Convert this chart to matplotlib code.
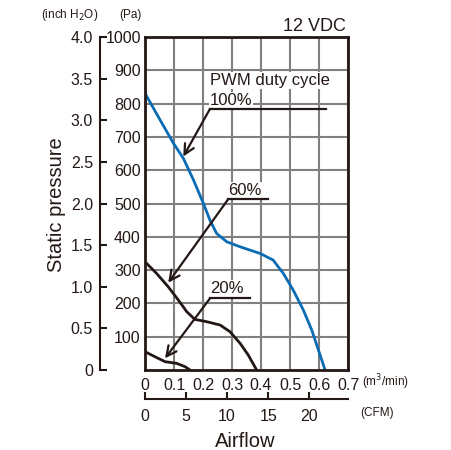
import numpy as np
import matplotlib.pyplot as plt

plt.rcParams['font.family'] = ['Liberation Sans', 'DejaVu Sans']

# fan curves, airflow in m3/min, static pressure in Pa
flow_100 = [0.0, 0.052, 0.098, 0.132, 0.167, 0.201, 0.224, 0.247, 0.282, 0.328, 0.362,
            0.397, 0.442, 0.477, 0.511, 0.546, 0.575, 0.598, 0.621]
pres_100 = [831, 751, 681, 636, 571, 501, 450, 410, 385, 370, 360,
            350, 330, 290, 240, 180, 120, 60, 0]
flow_60 = [0.0, 0.040, 0.080, 0.115, 0.144, 0.172, 0.213, 0.259, 0.293, 0.328, 0.356, 0.385]
pres_60 = [325, 290, 250, 210, 175, 152, 145, 135, 115, 80, 45, 0]
flow_20 = [0.0, 0.034, 0.069, 0.109, 0.138, 0.155]
pres_20 = [55, 40, 25, 20, 10, 0]

flow_ticks = [0, 0.1, 0.2, 0.3, 0.4, 0.5, 0.6, 0.7]
flow_labels = ['0', '0.1', '0.2', '0.3', '0.4', '0.5', '0.6', '0.7']
pa_ticks = [100, 200, 300, 400, 500, 600, 700, 800, 900, 1000]
inch_ticks = [0, 0.5, 1.0, 1.5, 2.0, 2.5, 3.0, 3.5, 4.0]
inch_labels = ['0', '0.5', '1.0', '1.5', '2.0', '2.5', '3.0', '3.5', '4.0']
cfm_ticks = [0, 5, 10, 15, 20]

INK = '#231815'
W, H = 451, 450
fig = plt.figure(figsize=(W / 100, H / 100), dpi=100)

def box(x0, y0, x1, y1):
    return [x0 / W, 1 - y1 / H, (x1 - x0) / W, (y1 - y0) / H]

ax = fig.add_axes(box(145, 37, 348, 370))
ax.set_xlim(0, 0.7)
ax.set_ylim(0, 1000)
ax.set_xticks(flow_ticks)
ax.set_xticklabels(flow_labels)
ax.set_yticks(pa_ticks)
ax.set_yticklabels([str(v) for v in pa_ticks])
ax.tick_params(length=0, labelsize=11.5, colors=INK)
ax.tick_params(axis='x', pad=6)
ax.tick_params(axis='y', pad=3)
ax.grid(True, color='#808080', lw=1.5)
ax.set_axisbelow(True)
for s in ax.spines.values():
    s.set_linewidth(2)
    s.set_color(INK)

ax.plot(flow_100, pres_100, color='#0a6cb4', lw=2)
ax.plot(flow_60, pres_60, color=INK, lw=2)
ax.plot(flow_20, pres_20, color=INK, lw=2)

# leader lines with open arrowheads
def leader(tip, knee, end):
    ax.plot([knee[0], end[0]], [knee[1], end[1]], color=INK, lw=1.6,
            clip_on=False, zorder=3)
    ax.annotate('', xy=tip, xytext=knee, zorder=3,
                arrowprops=dict(arrowstyle='->', color=INK, lw=1.6,
                                mutation_scale=18, shrinkA=0, shrinkB=0))

leader((0.132, 641), (0.224, 784), (0.624, 784))
leader((0.080, 262), (0.287, 513), (0.425, 513))
leader((0.069, 35), (0.224, 215), (0.362, 215))

lab_box = dict(facecolor='white', edgecolor='none', pad=0.5)
for x, y, s in [(0.224, 856, 'PWM duty cycle'), (0.224, 796, '100%'),
                (0.287, 527, '60%'), (0.224, 231, '20%')]:
    ax.text(x, y, s, fontsize=12, va='baseline', ha='left', color=INK,
            bbox=lab_box, zorder=1.8)

# inch H2O axis
ax2 = fig.add_axes(box(100, 37, 101, 370))
ax2.set_ylim(0, 4.0)
ax2.set_xticks([])
ax2.set_yticks(inch_ticks)
ax2.set_yticklabels(inch_labels)
for k in ['top', 'right', 'bottom']:
    ax2.spines[k].set_visible(False)
ax2.spines['left'].set_linewidth(1.5)
ax2.spines['left'].set_color(INK)
ax2.tick_params(axis='y', direction='in', length=5, width=1.5, labelsize=11.5,
                pad=5, colors=INK)
ax2.patch.set_visible(False)

# CFM axis
ax3 = fig.add_axes(box(145, 398, 348, 399))
ax3.set_xlim(0, 0.7 / 0.0283168)
ax3.set_yticks([])
ax3.set_xticks(cfm_ticks)
ax3.set_xticklabels([str(v) for v in cfm_ticks])
for k in ['top', 'right', 'left']:
    ax3.spines[k].set_visible(False)
ax3.spines['bottom'].set_linewidth(1.5)
ax3.spines['bottom'].set_color(INK)
ax3.tick_params(axis='x', direction='in', length=5, width=1.5, labelsize=11.5,
                pad=7, colors=INK)
ax3.patch.set_visible(False)

# unit and axis labels
def ftext(x, y, s, **kw):
    fig.text(x / W, 1 - y / H, s, color=INK, **kw)

ftext(98, 15, '(inch H$_2$O)', fontsize=8.5, ha='right', va='center')
ftext(130, 15, '(Pa)', fontsize=8.5, ha='center', va='center')
ftext(362, 382, '(m$^3$/min)', fontsize=8.5, ha='left', va='center')
ftext(360, 413, '(CFM)', fontsize=8.5, ha='left', va='center')
ftext(346, 31, '12 VDC', fontsize=13, ha='right', va='baseline')
ftext(245, 447, 'Airflow', fontsize=14.5, ha='center', va='baseline')
ftext(57, 205, 'Static pressure', fontsize=14.5, ha='center', va='center', rotation=90)

fig.savefig('out.png', dpi=100)
